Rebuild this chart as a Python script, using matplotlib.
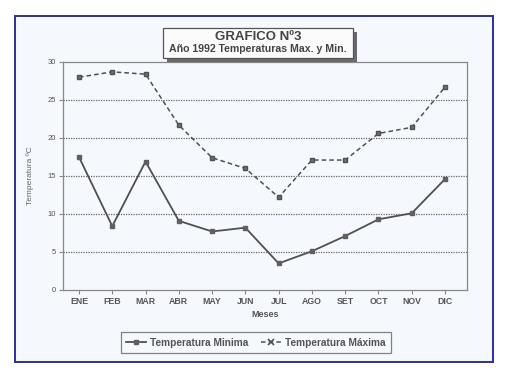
import matplotlib
matplotlib.use("Agg")
import matplotlib.pyplot as plt
from matplotlib.patches import Rectangle
from matplotlib.lines import Line2D

months = ["ENE", "FEB", "MAR", "ABR", "MAY", "JUN", "JUL", "AGO", "SET", "OCT", "NOV", "DIC"]
t_min = [17.5, 8.4, 16.9, 9.1, 7.7, 8.2, 3.5, 5.1, 7.1, 9.3, 10.1, 14.6]
t_max = [28.0, 28.7, 28.4, 21.7, 17.4, 16.0, 12.2, 17.1, 17.1, 20.6, 21.4, 26.7]
y_ticks = [0, 5, 10, 15, 20, 25, 30]

plt.rcParams['font.family'] = ['Liberation Sans', 'DejaVu Sans']

W, H = 508, 380
fig = plt.figure(figsize=(W / 100, H / 100), dpi=100)
fig.patch.set_facecolor("white")

def fx(x):
    return x / W

def fy(y):
    return 1 - y / H

# outer frame
fig.patches.append(Rectangle((fx(15), fy(362)), fx(493) - fx(15), fy(16) - fy(362),
                             transform=fig.transFigure, facecolor="#f5f8fc",
                             edgecolor="#2e2e9a", linewidth=1.4, zorder=-1))

ax = fig.add_axes([fx(63), fy(290), fx(467) - fx(63), fy(62) - fy(290)])
ax.set_facecolor("#f5f8fc")
x = list(range(len(months)))
line_col = "#505050"
ax.plot(x, t_min, color=line_col, linewidth=1.3, marker="s", markersize=3.2,
        markerfacecolor="#606060", markeredgecolor="#606060", zorder=3)
ax.plot(x, t_max, color=line_col, linewidth=1.1, linestyle=(0, (3, 2)), marker="s",
        markersize=3.2, markerfacecolor="#707070", markeredgecolor="#505050", zorder=3)

ax.set_xlim(-0.48, 11.66)
ax.set_ylim(0, 30)
ax.set_yticks(y_ticks)
ax.set_yticklabels([str(v) for v in y_ticks], fontsize=5.5, color="#555555")
ax.set_xticks(x)
ax.set_xticklabels(months, fontsize=6.3, fontweight="bold", color="#555555")
for v in y_ticks[1:-1]:
    ax.axhline(v, color="#666666", linewidth=0.9, linestyle=(0, (1, 1)), zorder=1)
for s in ax.spines.values():
    s.set_color("#888888")
    s.set_linewidth(0.9)
ax.tick_params(axis="both", length=3, width=0.8, color="#888888", pad=2)
ax.set_xlabel("Meses", fontsize=6.5, fontweight="bold", color="#555555", labelpad=3)
ax.set_ylabel("Temperatura ºC", fontsize=6, color="#666666", labelpad=10)

# title box with shadow
bx0, by0, bx1, by1 = 163, 28, 353, 58
fig.patches.append(Rectangle((fx(bx0 + 4), fy(by1 + 4)), fx(bx1) - fx(bx0), fy(by0) - fy(by1),
                             transform=fig.transFigure, facecolor="#6a6a6a",
                             edgecolor="none", zorder=5))
fig.patches.append(Rectangle((fx(bx0), fy(by1)), fx(bx1) - fx(bx0), fy(by0) - fy(by1),
                             transform=fig.transFigure, facecolor="#fbfbfb",
                             edgecolor="#555555", linewidth=0.9, zorder=6))
fig.text(fx(258), fy(37.5), "GRAFICO Nº3", ha="center", va="center", fontsize=9.5,
         fontweight="bold", color="#444444", zorder=7)
fig.text(fx(258), fy(49.5), "Año 1992 Temperaturas Max. y Min.", ha="center", va="center",
         fontsize=7.6, fontweight="bold", color="#444444", zorder=7)

handles = [
    Line2D([], [], color=line_col, linewidth=1.3, marker="s", markersize=3.2,
           markerfacecolor="#606060", markeredgecolor="#606060"),
    Line2D([], [], color=line_col, linewidth=1.1, linestyle=(0, (3, 2)), marker="x",
           markersize=4, markeredgewidth=1.2, markeredgecolor="#505050"),
]
leg = fig.legend(handles, ["Temperatura Minima", "Temperatura Máxima"], ncol=2,
                 loc="center", bbox_to_anchor=(fx(256), fy(342.5)),
                 prop={"weight": "bold", "size": 7.3}, frameon=True, fancybox=False,
                 handlelength=2.0, handletextpad=0.4, columnspacing=1.2,
                 borderpad=0.5)
leg.get_frame().set_edgecolor("#666666")
leg.get_frame().set_linewidth(0.9)
leg.get_frame().set_facecolor("#f5f8fc")
for t in leg.get_texts():
    t.set_color("#555555")

fig.savefig("out.png", dpi=100, facecolor="white")
